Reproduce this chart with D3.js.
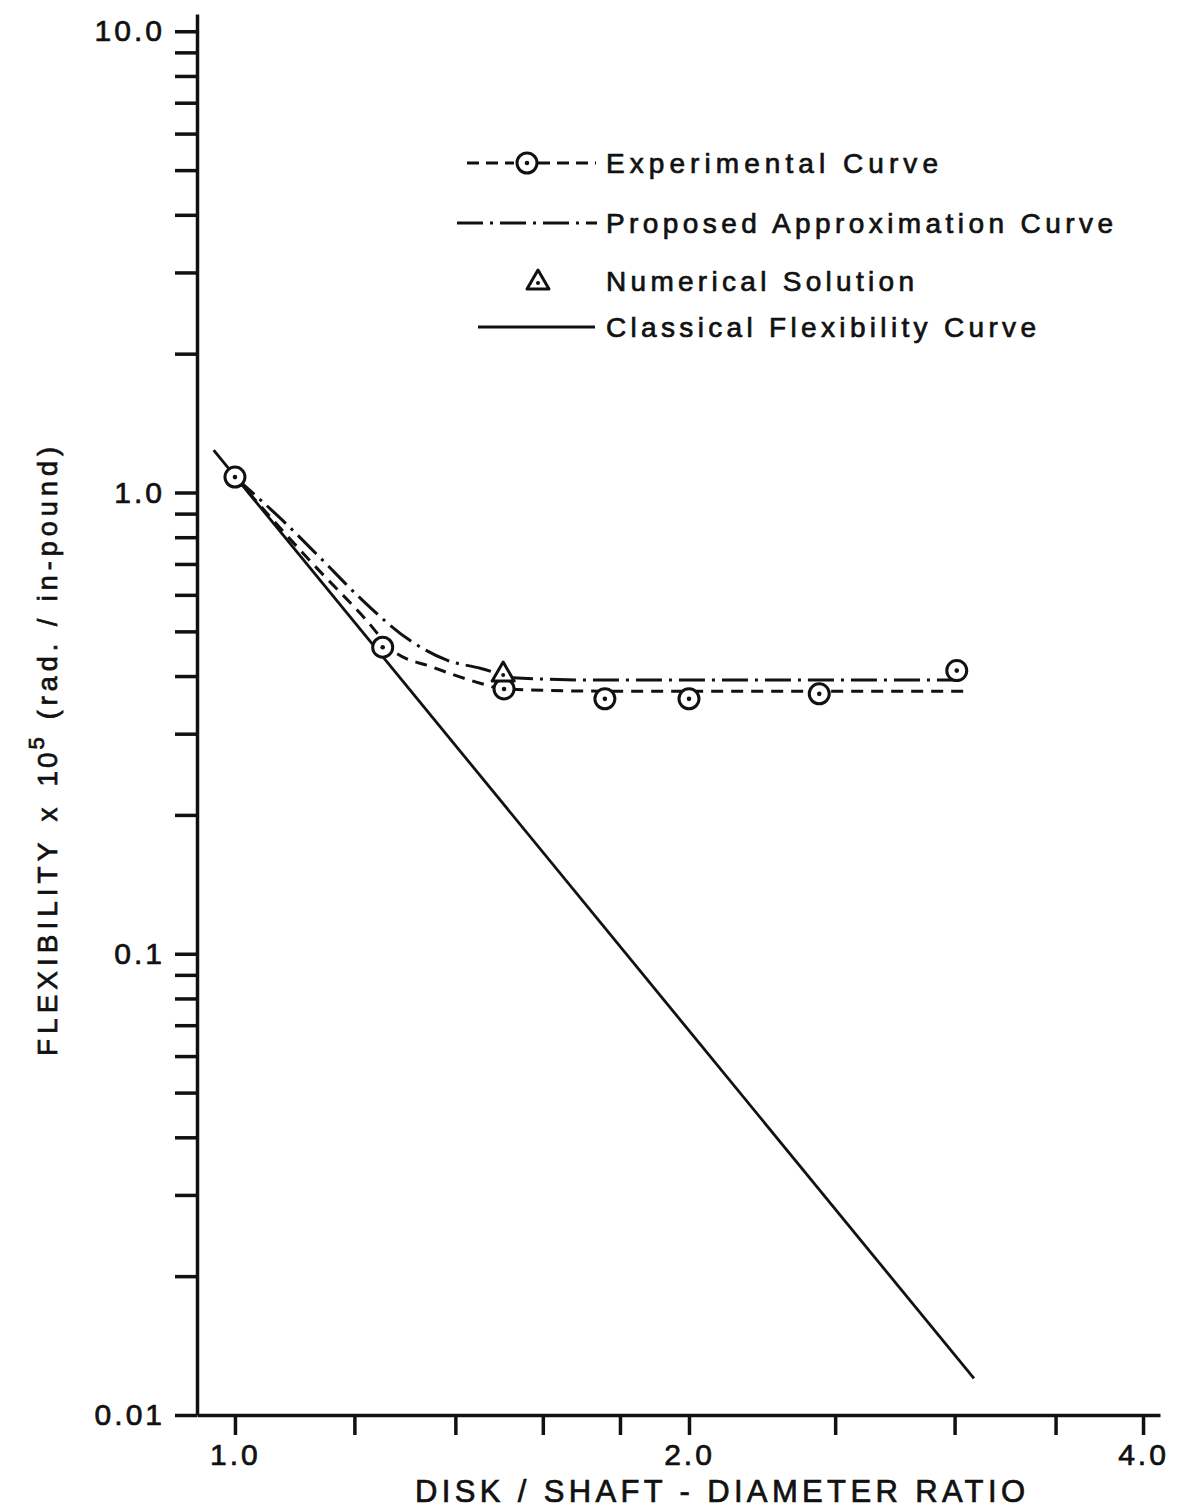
<!DOCTYPE html>
<html>
<head>
<meta charset="utf-8">
<script src="https://cdn.jsdelivr.net/npm/d3@7"></script>
<style>
body{margin:0;background:#fff}
svg{display:block}
text{font-family:"Liberation Sans",Arial,sans-serif;fill:#111;stroke:#111;stroke-width:0.7px}
</style>
</head>
<body>
<div id="chart"></div>
<script>
// values (log-log)
var xTickValues = [1.0,1.2,1.4,1.6,1.8,2.0,2.5,3.0,3.5,4.0]
var xTickLabels = {"1":"1.0","2":"2.0","4":"4.0"}
var yMajor = [0.01,0.1,1,10]
var yTickLabels = {"0.01":"0.01","0.1":"0.1","1":"1.0","10":"10.0"}

// experimental points (circles)
var expX = [1.0,1.253,1.508,1.759,2.0,2.44,3.01]
var expY = [1.08,0.462,0.375,0.357,0.357,0.366,0.411]
// experimental curve (dashed)
var expCurveX = [1.0,1.125,1.222,1.272,1.353,1.454,1.508,1.75,3.05]
var expCurveY = [1.08,0.703,0.529,0.455,0.418,0.386,0.375,0.371,0.371]
// proposed approximation curve (dash-dot)
var approxX = [1.0,1.075,1.138,1.209,1.306,1.382,1.454,1.539,1.75,3.01]
var approxY = [1.08,0.871,0.724,0.593,0.478,0.433,0.416,0.396,0.392,0.392]
// numerical solution (triangle)
var numX = [1.506]
var numY = [0.406]
// classical flexibility curve (straight line)
var classX = [0.968,3.09]
var classY = [1.235,0.0120]

var legendNames = ["Experimental Curve","Proposed Approximation Curve","Numerical Solution","Classical Flexibility Curve"]

var width = 1180
var height = 1509

var x = d3.scaleLog().domain([0.9437,4.105]).range([197,1160])
var y = d3.scaleLog().domain([0.01,10.9]).range([1415,14])

var svg = d3.select("#chart").append("svg")
	.attr("width",width)
	.attr("height",height)

// minor y ticks 2..9 in each decade
var yTickValues = []
for(var d in [0,1,2]){
	var base = yMajor[d]
	for(var k=1;k<10;k++){
		yTickValues.push(base*k)
	}
}
yTickValues.push(10)

var yAxis = d3.axisLeft(y)
	.tickValues(yTickValues)
	.tickSize(22)
	.tickSizeOuter(0)
	.tickPadding(10)
	.tickFormat(function(d){
		var key = String(+d.toPrecision(3))
		return yTickLabels[key] || ""
	})

var xAxis = d3.axisBottom(x)
	.tickValues(xTickValues)
	.tickSize(20)
	.tickSizeOuter(0)
	.tickPadding(9)
	.tickFormat(function(d){
		return xTickLabels[String(d)] || ""
	})

var yG = svg.append("g").call(yAxis)
var xG = svg.append("g").call(xAxis)

svg.selectAll(".domain").attr("stroke","#111").attr("stroke-width",3.5)
svg.selectAll(".tick line").attr("stroke","#111").attr("stroke-width",3.5)
svg.selectAll(".tick text")
	.attr("font-size",30)
	.attr("letter-spacing",3)
	.attr("fill","#111")
	.style("font-family","Liberation Sans, Arial, sans-serif")
yG.attr("transform","translate(197,0)")
xG.attr("transform","translate(0,1415)")

// curves
var line = d3.line()
	.x(function(d){return x(d[0])})
	.y(function(d){return y(d[1])})

var curveLine = d3.line()
	.x(function(d){return x(d[0])})
	.y(function(d){return y(d[1])})
	.curve(d3.curveMonotoneX)

svg.append("path")
	.datum(d3.zip(classX,classY))
	.attr("d",line)
	.attr("fill","none")
	.attr("stroke","#111")
	.attr("stroke-width",2.8)

svg.append("path")
	.datum(d3.zip(expCurveX,expCurveY))
	.attr("d",curveLine)
	.attr("fill","none")
	.attr("stroke","#111")
	.attr("stroke-width",3)
	.attr("stroke-dasharray","12,8")

svg.append("path")
	.datum(d3.zip(approxX,approxY))
	.attr("d",curveLine)
	.attr("fill","none")
	.attr("stroke","#111")
	.attr("stroke-width",3)
	.attr("stroke-dasharray","26,7,3,7")

// markers
function circleMarker(g,cx,cy){
	g.append("circle").attr("cx",cx).attr("cy",cy).attr("r",10)
		.attr("fill","#fff").attr("stroke","#111").attr("stroke-width",3)
	g.append("circle").attr("cx",cx).attr("cy",cy).attr("r",2.3).attr("fill","#111")
}
function triMarker(g,cx,cy){
	g.append("path")
		.attr("d","M"+cx+","+(cy-11)+"L"+(cx+11)+","+(cy+8)+"L"+(cx-11)+","+(cy+8)+"Z")
		.attr("fill","#fff").attr("stroke","#111").attr("stroke-width",3).attr("stroke-linejoin","round")
	g.append("circle").attr("cx",cx).attr("cy",cy+2).attr("r",2).attr("fill","#111")
}

var marks = svg.append("g")
for(var i in expX){
	circleMarker(marks,x(expX[i]),y(expY[i]))
}
for(var i in numX){
	triMarker(marks,x(numX[i]),y(numY[i]))
}

// legend
var legend = svg.append("g")
var legendY = [163,223,281,327]
var legendW = [332,507,308,430]
legend.append("line").attr("x1",467).attr("x2",514).attr("y1",legendY[0]).attr("y2",legendY[0])
	.attr("stroke","#111").attr("stroke-width",3).attr("stroke-dasharray","12,7")
legend.append("line").attr("x1",538).attr("x2",596).attr("y1",legendY[0]).attr("y2",legendY[0])
	.attr("stroke","#111").attr("stroke-width",3).attr("stroke-dasharray","12,7")
circleMarker(legend,527,legendY[0])
legend.append("line").attr("x1",457).attr("x2",597).attr("y1",legendY[1]).attr("y2",legendY[1])
	.attr("stroke","#111").attr("stroke-width",3).attr("stroke-dasharray","26,7,3,7")
triMarker(legend,538,legendY[2])
legend.append("line").attr("x1",478).attr("x2",595).attr("y1",legendY[3]).attr("y2",legendY[3])
	.attr("stroke","#111").attr("stroke-width",2.8)

legend.selectAll(".ltext")
	.data(legendNames)
	.enter()
	.append("text")
	.attr("x",606)
	.attr("y",function(d,i){return legendY[i]+10})
	.attr("font-size",28)
	.attr("textLength",function(d,i){return legendW[i]})
	.attr("lengthAdjust","spacing")
	.text(function(d){return d})

// axis titles
svg.append("text")
	.attr("x",720).attr("y",1502)
	.attr("text-anchor","middle")
	.attr("font-size",31)
	.attr("textLength",610)
	.attr("lengthAdjust","spacing")
	.text("DISK / SHAFT - DIAMETER RATIO")

var yt = svg.append("text")
	.attr("transform","translate(57,1056) rotate(-90)")
	.attr("x",0).attr("y",0)
	.attr("font-size",28)
yt.append("tspan").attr("letter-spacing",5).text("FLEXIBILITY")
yt.append("tspan").attr("dx",16).attr("letter-spacing",3).text("x")
yt.append("tspan").attr("dx",18).attr("letter-spacing",3).text("10")
yt.append("tspan").attr("dy",-13).attr("font-size",22).text("5")
yt.append("tspan").attr("dy",13).attr("dx",18).attr("font-size",27).attr("letter-spacing",5).text("(rad. / in-pound)")
</script>
</body>
</html>
